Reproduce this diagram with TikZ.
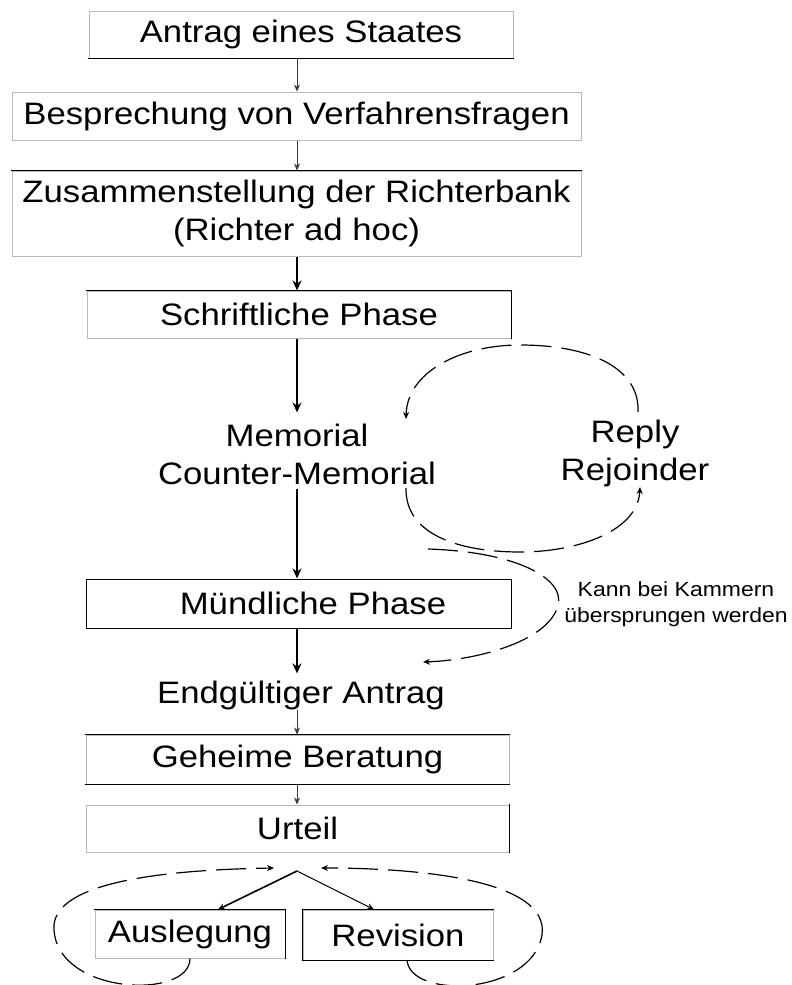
\documentclass[tikz,border=0pt]{standalone}
\usepackage{fontspec}
\setmainfont{Liberation Sans}[FakeStretch=1.12]
\usetikzlibrary{arrows.meta}

\tikzset{
  box/.style={draw=gray!55, line width=1pt, inner sep=0pt, minimum height=47pt},
  blackside/.style={line width=1.6pt, line cap=round},
  txt/.style={inner sep=0pt, align=center},
  thinarr/.style={->, draw=gray!45!black, line width=0.8pt},
  thickarr/.style={->, line width=2pt, >={Stealth[length=10pt,width=9pt]}},
  loopline/.style={->, line width=1.2pt, dash pattern=on 30pt off 10pt}
}

\begin{document}
\begin{tikzpicture}
  [x=1pt, y=-1pt, >={Stealth[length=7pt,width=6pt]},
   font=\fontsize{31}{38}\selectfont]
  \useasboundingbox (0,0) rectangle (792,985);
  \coordinate (axis) at (297,0);

  % Verfahrensschritte
  \node[box, minimum width=424pt] (antrag) at (301,34.5) {Antrag eines Staates};
  \node[box, minimum width=569pt, minimum height=48pt] (bespr) at (296.5,116) {Besprechung von Verfahrensfragen};
  \node[box, minimum width=569pt, minimum height=85pt, align=center] (zus) at (296.5,213.5) {Zusammenstellung der Richterbank\\(Richter ad hoc)};
  \node[box, minimum width=424pt] (schrift) at (299,314.5) {Schriftliche Phase};
  \node[txt] (memo) at (297,454) {Memorial\\Counter-Memorial};
  \node[txt] (reply) at (635,453) {Reply\\Rejoinder};
  \node[box, draw=black, minimum width=425pt, minimum height=49pt] (mund) at (298.5,603.5) {\hspace*{29pt}Mündliche Phase};
  \node[txt, font=\fontsize{20.5}{26}\selectfont] (kann) at (676,604) {Kann bei Kammern\\übersprungen werden};
  \node[txt] (endg) at (301,695) {Endgültiger Antrag};
  \node[box, minimum width=423pt, minimum height=49pt] (geheim) at (297.5,759.5) {Geheime Beratung};
  \node[box, minimum width=423pt] (urteil) at (297.5,828.5) {Urteil};
  \node[box, minimum width=190pt, minimum height=48pt] (ausl) at (190,934) {Auslegung};
  \node[box, minimum width=190pt, minimum height=50pt] (rev) at (398,935) {Revision};

  % dunkle Kanten
  \foreach \n/\p/\q in {antrag/south west/south east, zus/north west/north east,
      schrift/north west/north east, schrift/north east/south east,
      geheim/north west/north east, geheim/south west/south east,
      urteil/north east/south east, ausl/north west/north east,
      ausl/north east/south east, rev/north west/north east,
      rev/south west/south east, rev/north west/south west}
    \draw[blackside] (\n.\p) -- (\n.\q);

  % Pfeile
  \path (memo.north) ++(0,-11) coordinate (memoin);
  \path (memo.south) ++(0,4) coordinate (memoout);
  \path (endg.north) ++(0,-7) coordinate (endgin);
  \draw[thinarr] (antrag.south -| axis) -- (bespr.north -| axis);
  \draw[thinarr] (bespr.south -| axis) -- (zus.north -| axis);
  \draw[thickarr] (zus.south -| axis) -- (schrift.north -| axis);
  \draw[thickarr] (schrift.south -| axis) -- (memoin -| axis);
  \draw[thickarr] (memoout -| axis) -- (mund.north -| axis);
  \draw[thickarr] (mund.south -| axis) -- (endgin -| axis);
  \draw[thinarr] (endg.south -| axis) -- (geheim.north -| axis);
  \draw[thinarr] (geheim.south -| axis) -- (urteil.north -| axis);

  \coordinate (split) at (297,871);
  \draw[->, line width=1.6pt] (split) -- ([xshift=28pt]ausl.north);
  \draw[->, line width=1pt] (split) -- ([xshift=-24pt]rev.north);

  % gestrichelte Schleifen
  \coordinate (replyout) at (638,412);
  \coordinate (memoback) at (406,419);
  \coordinate (memoleave) at (406,488);
  \coordinate (rejoin) at (640,487);
  \coordinate (skipout) at (428,549);
  \coordinate (skipin) at (423,662);
  \coordinate (leftin) at (274,868);
  \coordinate (rightin) at (321,868);
  \coordinate (revout) at (407,960);
  \draw[loopline] (replyout) .. controls (640,368) and (590,345) .. (520,345)
    .. controls (460,345) and (407,372) .. (memoback);
  \draw[loopline] (memoleave) .. controls (405,535) and (460,552) .. (520,552)
    .. controls (580,552) and (638,530) .. (rejoin);
  \draw[loopline] (skipout) .. controls (520,552) and (565,580) .. (558,605)
    .. controls (550,640) and (480,660) .. (skipin);
  \draw[loopline] (ausl.south) .. controls (190,1000) and (58,995) .. (54,930)
    .. controls (50,885) and (150,870) .. (leftin);
  \draw[loopline] (revout) .. controls (410,1000) and (532,995) .. (542,935)
    .. controls (550,880) and (420,868) .. (rightin);
\end{tikzpicture}
\end{document}
